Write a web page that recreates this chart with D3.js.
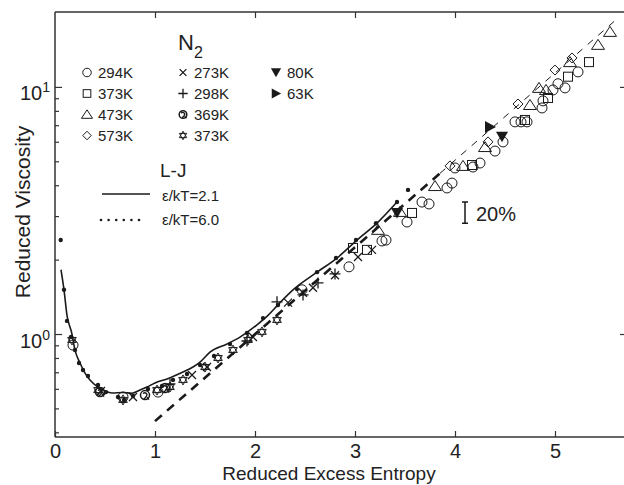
<!DOCTYPE html>
<html>
<head>
<meta charset="utf-8">
<script src="https://cdn.jsdelivr.net/npm/d3@7"></script>
<style>
  body { margin: 0; background: #fff; }
  text { font-family: "Liberation Sans", Arial, sans-serif; fill: #222; }
</style>
</head>
<body>
<svg id="chart" width="624" height="485"></svg>
<script>
// axis ticks
const xTicks = [0, 1, 2, 3, 4, 5];
const yMajor = [1, 10];
const yMinor = [0.4, 0.5, 0.6, 0.7, 0.8, 0.9, 2, 3, 4, 5, 6, 7, 8, 9];

// L-J eps/kT = 2.1 (solid)
const ljSolid = [[0.06,1.82],[0.09,1.51],[0.12,1.19],[0.167,1.01],[0.20,0.861],[0.25,0.763],[0.30,0.695],
  [0.35,0.652],[0.43,0.610],[0.50,0.588],[0.57,0.577],[0.68,0.580],[0.77,0.576],[0.85,0.593],
  [0.92,0.610],[1.00,0.634],[1.12,0.658],[1.28,0.702],[1.38,0.735],[1.45,0.770],[1.55,0.845],[1.72,0.911],
  [1.85,0.972],[2.02,1.09],[2.13,1.19],[2.25,1.34],[2.38,1.51],[2.62,1.78],[2.82,2.03],[3.02,2.40],
  [3.22,2.81],[3.42,3.42]];

// L-J eps/kT = 6.0 (dots)
const ljDots = [[0.057,2.40],[0.09,1.51],[0.12,1.13],[0.16,0.972],[0.20,0.861],[0.24,0.763],[0.28,0.715],
  [0.33,0.676],[0.43,0.622],[0.51,0.582],[0.63,0.556],[0.69,0.541],[0.78,0.561],[0.93,0.599],[1.07,0.616],
  [1.18,0.652],[1.32,0.689],[1.45,0.749],[1.59,0.815],[1.75,0.911],[1.92,1.01],[2.08,1.16],[2.23,1.31],
  [2.42,1.52],[2.62,1.78],[2.81,2.03],[3.01,2.40],[3.21,2.81],[3.42,3.42],[3.53,3.83]];

// dashed fit line
const fitThick = [[1.0,0.444],[3.85,4.47]];
const fitThin = [[3.85,4.47],[5.63,19.0]];

// measured points
const c294 = [[0.18,0.902],[0.68,0.556],[1.03,0.582],[2.47,1.51],[2.94,1.87],[3.27,2.38],[3.31,2.40],
  [3.52,2.84],[3.67,3.42],[3.74,3.36],[3.92,3.90],[3.97,4.08],[4.00,4.70],[4.18,4.74],[4.25,4.92],
  [4.40,5.50],[4.48,5.99],[4.60,7.22],[4.66,7.22],[4.72,7.22],[4.87,8.22],[4.88,8.78],[4.98,9.72],
  [5.03,10.3],[5.10,9.91],[5.23,11.5]];
const s373 = [[2.98,2.23],[3.12,2.19],[3.57,3.09],[4.17,4.83],[4.70,7.35],[4.93,9.02],[5.13,11.0],[5.34,12.6]];
const t473 = [[3.23,2.64],[3.45,3.12],[3.80,3.97],[4.08,4.79],[4.30,5.71],[4.75,8.45],[4.84,9.91],
  [4.91,9.72],[5.15,12.6],[5.43,14.8],[5.55,16.7]];
const d573 = [[3.95,4.79],[4.33,5.99],[4.63,8.53],[5.00,11.7],[5.17,13.1]];
const x273 = [[0.46,0.588],[0.78,0.556],[1.37,0.682],[1.52,0.735],[1.98,0.972],[2.33,1.34],[2.48,1.47],
  [2.58,1.54],[2.80,1.73],[3.03,2.05],[3.17,2.19]];
const p298 = [[1.15,0.628],[1.92,0.937],[2.22,1.35],[2.48,1.44],[2.63,1.61],[2.80,1.75]];
const q369 = [[0.45,0.582],[0.90,0.566],[1.10,0.604]];
const st373 = [[0.17,0.946],[0.43,0.593],[0.68,0.541],[1.02,0.593],[1.15,0.610],[1.28,0.652],[1.50,0.735],
  [1.63,0.800],[1.78,0.861],[1.93,0.946],[2.07,1.02],[2.22,1.14]];
const dn80 = [[3.42,3.09],[4.47,6.28]];
const rt63 = [[4.35,6.89]];

const legendItems = [
  { type: 'circle', label: '294K', col: 0, row: 0 },
  { type: 'square', label: '373K', col: 0, row: 1 },
  { type: 'triangle', label: '473K', col: 0, row: 2 },
  { type: 'diamond', label: '573K', col: 0, row: 3 },
  { type: 'cross', label: '273K', col: 1, row: 0 },
  { type: 'plus', label: '298K', col: 1, row: 1 },
  { type: 'swirl', label: '369K', col: 1, row: 2 },
  { type: 'star', label: '373K', col: 1, row: 3 },
  { type: 'down', label: '80K', col: 2, row: 0 },
  { type: 'right', label: '63K', col: 2, row: 1 }
];

const svg = d3.select('#chart');
const ink = '#1a1a1a';

const x = d3.scaleLinear().domain([0, 5.71]).range([55, 626]);
const y = d3.scaleLog().domain([0.383, 20.1]).range([437, 12]);

// marker shapes (centered at 0,0)
function drawMarker(g, type, k) {
  k = k || 1;
  const p = s => s * k;
  if (type === 'circle') {
    g.append('circle').attr('r', p(5)).attr('fill', 'none').attr('stroke', ink).attr('stroke-width', 1);
  } else if (type === 'square') {
    g.append('rect').attr('x', p(-4.5)).attr('y', p(-4.5)).attr('width', p(9)).attr('height', p(9))
      .attr('fill', 'none').attr('stroke', ink).attr('stroke-width', 1);
  } else if (type === 'triangle') {
    g.append('path').attr('d', `M0,${p(-5.5)}L${p(6.5)},${p(4.5)}L${p(-6.5)},${p(4.5)}Z`)
      .attr('fill', 'none').attr('stroke', ink).attr('stroke-width', 1);
  } else if (type === 'diamond') {
    g.append('path').attr('d', `M0,${p(-5)}L${p(5)},0L0,${p(5)}L${p(-5)},0Z`)
      .attr('fill', 'none').attr('stroke', ink).attr('stroke-width', 1);
  } else if (type === 'cross') {
    g.append('path').attr('d', `M${p(-4)},${p(-4)}L${p(4)},${p(4)}M${p(4)},${p(-4)}L${p(-4)},${p(4)}`)
      .attr('stroke', ink).attr('stroke-width', 1.3);
  } else if (type === 'plus') {
    g.append('path').attr('d', `M${p(-5.5)},0L${p(5.5)},0M0,${p(-5.5)}L0,${p(5.5)}`)
      .attr('stroke', ink).attr('stroke-width', 1.3);
  } else if (type === 'swirl') {
    g.append('circle').attr('r', p(4.5)).attr('fill', 'none').attr('stroke', ink).attr('stroke-width', 1.5);
    g.append('path').attr('d', `M${p(-2)},${p(-1.5)}A${p(2)},${p(2)} 0 1,1 ${p(1.5)},${p(1)}L${p(-1)},${p(4)}M${p(2)},${p(2)}L${p(4)},${p(4.5)}`)
      .attr('fill', 'none').attr('stroke', ink).attr('stroke-width', 1.4);
  } else if (type === 'star') {
    g.append('path').attr('d', `M0,${p(-5)}L${p(4.3)},${p(2.5)}L${p(-4.3)},${p(2.5)}ZM0,${p(5)}L${p(4.3)},${p(-2.5)}L${p(-4.3)},${p(-2.5)}Z`)
      .attr('fill', 'none').attr('stroke', ink).attr('stroke-width', 1);
  } else if (type === 'down') {
    g.append('path').attr('d', `M${p(-6)},${p(-5)}L${p(6)},${p(-5)}L0,${p(5.5)}Z`).attr('fill', ink);
  } else if (type === 'right') {
    g.append('path').attr('d', `M${p(-5)},${p(-6)}L${p(6)},0L${p(-5)},${p(6)}Z`).attr('fill', ink);
  }
}

// frame
const frame = svg.append('g').attr('stroke', '#333').attr('stroke-width', 1.5).attr('fill', 'none');
frame.append('line').attr('x1', x(0)).attr('x2', x(0)).attr('y1', y.range()[1]).attr('y2', y.range()[0]);
frame.append('line').attr('x1', x(0)).attr('x2', x.range()[1]).attr('y1', y.range()[0]).attr('y2', y.range()[0]);
frame.append('line').attr('x1', x(0)).attr('x2', x.range()[1]).attr('y1', y.range()[1]).attr('y2', y.range()[1]);
frame.append('line').attr('x1', x.range()[1]).attr('x2', x.range()[1]).attr('y1', y.range()[1]).attr('y2', y.range()[0]);

// axes with inward ticks
const styleAxis = g => {
  g.select('.domain').remove();
  g.selectAll('.tick line').attr('stroke', '#333').attr('stroke-width', 1.2);
};
svg.append('g').attr('transform', `translate(0,${y.range()[0]})`)
  .call(d3.axisBottom(x).tickValues(xTicks).tickSize(-6).tickPadding(7).tickFormat(d3.format('d')))
  .call(styleAxis)
  .call(g => g.selectAll('.tick text').attr('font-size', 20).attr('fill', '#222')
    .attr('font-family', '"Liberation Sans", Arial, sans-serif'));
svg.append('g').attr('transform', `translate(0,${y.range()[1]})`)
  .call(d3.axisTop(x).tickValues(xTicks.slice(1)).tickSize(-6).tickFormat(''))
  .call(styleAxis);
svg.append('g').attr('transform', `translate(${x(0)},0)`)
  .call(d3.axisLeft(y).tickValues(yMajor).tickSize(-7).tickFormat(''))
  .call(styleAxis);
svg.append('g').attr('transform', `translate(${x(0)},0)`)
  .call(d3.axisLeft(y).tickValues(yMinor).tickSize(-4).tickFormat(''))
  .call(styleAxis);
svg.append('g').attr('transform', `translate(${x.range()[1]},0)`)
  .call(d3.axisRight(y).tickValues(yMajor).tickSize(-6).tickFormat(''))
  .call(styleAxis);

// y tick labels 10^n
yMajor.forEach(v => {
  const t = svg.append('text').attr('x', 50).attr('y', y(v) + 13.5)
    .attr('text-anchor', 'end').attr('font-size', 20);
  t.append('tspan').text('10');
  t.append('tspan').attr('dy', -8).attr('font-size', 14).text(String(Math.round(Math.log10(v))));
});

// axis titles
svg.append('text').attr('x', 329).attr('y', 479.5).attr('text-anchor', 'middle')
  .attr('font-size', 19).text('Reduced Excess Entropy');
svg.append('text').attr('transform', 'translate(30,212) rotate(-90)').attr('text-anchor', 'middle')
  .attr('font-size', 21).text('Reduced Viscosity');

// fit lines
const line = d3.line().x(d => x(d[0])).y(d => y(d[1]));
svg.append('path').datum(fitThin).attr('d', line).attr('fill', 'none')
  .attr('stroke', ink).attr('stroke-width', 1).attr('stroke-dasharray', '7,7');
svg.append('path').datum(fitThick).attr('d', line).attr('fill', 'none')
  .attr('stroke', ink).attr('stroke-width', 2.6).attr('stroke-dasharray', '9,7');

// L-J curves
svg.append('path').datum(ljSolid).attr('d', line.curve(d3.curveMonotoneX)).attr('fill', 'none')
  .attr('stroke', ink).attr('stroke-width', 1.6);
svg.append('g').selectAll('circle').data(ljDots).join('circle')
  .attr('cx', d => x(d[0])).attr('cy', d => y(d[1])).attr('r', 2.2).attr('fill', ink);

// measured markers
const series = [
  [c294, 'circle'], [s373, 'square'], [t473, 'triangle'], [d573, 'diamond'],
  [x273, 'cross'], [p298, 'plus'], [q369, 'swirl'], [st373, 'star'],
  [dn80, 'down'], [rt63, 'right']
];
series.forEach(([data, type]) => {
  svg.append('g').selectAll('g').data(data).join('g')
    .attr('transform', d => `translate(${x(d[0])},${y(d[1])})`)
    .each(function () { drawMarker(d3.select(this), type, 1); });
});

// 20% bar
const barX = x(4.10), bTop = y(3.42), bBot = y(2.81);
svg.append('path').attr('d', `M${barX - 3},${bTop}H${barX + 3}M${barX},${bTop}V${bBot}M${barX - 3},${bBot}H${barX + 3}`)
  .attr('stroke', ink).attr('stroke-width', 1.5).attr('fill', 'none');
svg.append('text').attr('x', barX + 11).attr('y', bBot - 2).attr('font-size', 20).text('20%');

// legend: N2
const nt = svg.append('text').attr('x', 178).attr('y', 50).attr('font-size', 22);
nt.append('tspan').text('N');
nt.append('tspan').attr('dy', 8).attr('font-size', 16).text('2');

const colX = [87, 183, 276];
legendItems.forEach(d => {
  const cx = colX[d.col], cy = 72.5 + d.row * 21;
  const g = svg.append('g').attr('transform', `translate(${cx},${cy})`);
  drawMarker(g, d.type, 0.85);
  svg.append('text').attr('x', cx + 11).attr('y', cy + 5.5).attr('font-size', 15).text(d.label);
});

// L-J legend
svg.append('text').attr('x', 160).attr('y', 177).attr('font-size', 19).text('L-J');
svg.append('line').attr('x1', 102).attr('x2', 150).attr('y1', 194).attr('y2', 194)
  .attr('stroke', ink).attr('stroke-width', 1.6);
svg.append('text').attr('x', 162).attr('y', 201).attr('font-size', 15).text('ε/kT=2.1');
svg.append('g').selectAll('circle').data(d3.range(6)).join('circle')
  .attr('cx', i => 101 + i * 7.6).attr('cy', 220).attr('r', 1.3).attr('fill', ink);
svg.append('text').attr('x', 162).attr('y', 225).attr('font-size', 15).text('ε/kT=6.0');
</script>
</body>
</html>
